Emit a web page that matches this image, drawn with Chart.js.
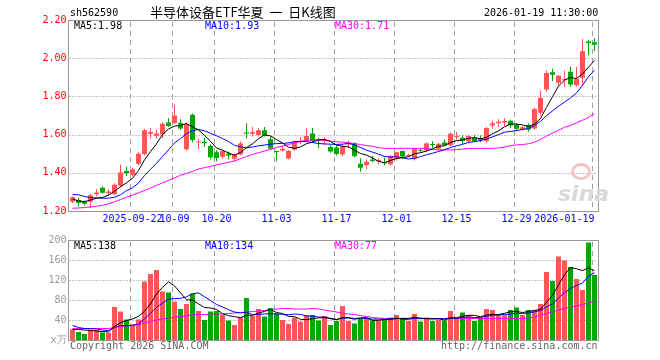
<!DOCTYPE html>
<html><head><meta charset="utf-8">
<script src="https://cdn.jsdelivr.net/npm/chart.js@4.4.1/dist/chart.umd.min.js"></script>
<style>
html,body{margin:0;padding:0;background:#fff;}
#wrap{position:relative;width:660px;height:360px;overflow:hidden;background:#fff;}
canvas{position:absolute;left:0;top:0;}
.t{position:absolute;font-family:"DejaVu Sans Mono",monospace;font-size:10px;line-height:12px;white-space:pre;color:#000;}
</style></head><body>
<div id="wrap">
<canvas id="vol" width="660" height="360"></canvas>
<canvas id="price" width="660" height="360"></canvas>
<div class="t" style="left:70px;top:7px;">sh562590</div>
<div class="t" style="left:150px;top:4px;font-family:'Noto Sans CJK SC',sans-serif;font-size:13px;line-height:16px;">半导体设备ETF华夏  一  日K线图</div>
<div class="t" style="left:484px;top:7px;">2026-01-19 11:30:00</div>
<div class="t" style="left:74px;top:20px;">MA5:1.98</div>
<div class="t" style="left:205px;top:20px;color:#0000ff;">MA10:1.93</div>
<div class="t" style="left:335px;top:20px;color:#ff00ff;">MA30:1.71</div>
<div class="t" style="left:74px;top:240px;">MA5:138</div>
<div class="t" style="left:205px;top:240px;color:#0000ff;">MA10:134</div>
<div class="t" style="left:335px;top:240px;color:#ff00ff;">MA30:77</div>
<div class="t" style="left:70px;top:340px;color:#666;">Copyright 2026 SINA.COM</div>
<div class="t" style="left:441px;top:340px;color:#666;">http://finance.sina.com.cn</div>
<div style="position:absolute;left:571px;top:163px;width:14px;height:11px;border:3px solid #f3c4c4;border-radius:50%;"></div>
<div class="t" style="left:558px;top:182px;font-family:'DejaVu Sans',sans-serif;font-size:22px;line-height:24px;font-style:italic;font-weight:bold;color:#d9d9d9;">sina</div>
</div>
<script>
const dates = ['2025-09-08','2025-09-09','2025-09-10','2025-09-11','2025-09-12','2025-09-15','2025-09-16','2025-09-17','2025-09-18','2025-09-19',
'2025-09-22','2025-09-23','2025-09-24','2025-09-25','2025-09-26','2025-09-29','2025-09-30','2025-10-09','2025-10-10','2025-10-13',
'2025-10-14','2025-10-15','2025-10-16','2025-10-17','2025-10-20','2025-10-21','2025-10-22','2025-10-23','2025-10-24','2025-10-27',
'2025-10-28','2025-10-29','2025-10-30','2025-10-31','2025-11-03','2025-11-04','2025-11-05','2025-11-06','2025-11-07','2025-11-10',
'2025-11-11','2025-11-12','2025-11-13','2025-11-14','2025-11-17','2025-11-18','2025-11-19','2025-11-20','2025-11-21','2025-11-24',
'2025-11-25','2025-11-26','2025-11-27','2025-11-28','2025-12-01','2025-12-02','2025-12-03','2025-12-04','2025-12-05','2025-12-08',
'2025-12-09','2025-12-10','2025-12-11','2025-12-12','2025-12-15','2025-12-16','2025-12-17','2025-12-18','2025-12-19','2025-12-22',
'2025-12-23','2025-12-24','2025-12-25','2025-12-26','2025-12-29','2025-12-30','2025-12-31','2026-01-05','2026-01-06','2026-01-07',
'2026-01-08','2026-01-09','2026-01-12','2026-01-13','2026-01-14','2026-01-15','2026-01-16','2026-01-19'];

const tickDates = ['2025-09-22','2025-10-09','2025-10-20','2025-11-03','2025-11-17','2025-12-01','2025-12-15','2025-12-29','2026-01-19'];
const tickTexts = ['2025-09-22','10-09','10-20','11-03','11-17','12-01','12-15','12-29','2026-01-19'];

const open = [1.249,1.258,1.248,1.249,1.288,1.322,1.293,1.288,1.332,1.410,
1.390,1.447,1.498,1.605,1.594,1.600,1.664,1.660,1.662,1.523,
1.704,1.558,1.562,1.540,1.508,1.484,1.500,1.474,1.496,1.611,
1.605,1.598,1.623,1.576,1.514,1.517,1.475,1.522,1.562,1.567,
1.606,1.576,1.567,1.535,1.532,1.496,1.548,1.554,1.447,1.440,
1.470,1.460,1.456,1.445,1.479,1.514,1.488,1.472,1.520,1.517,
1.550,1.526,1.558,1.544,1.588,1.584,1.565,1.583,1.579,1.566,
1.648,1.660,1.664,1.672,1.650,1.624,1.650,1.632,1.715,1.836,
1.927,1.872,1.885,1.929,1.858,1.897,2.087,2.083];

const high = [1.276,1.270,1.255,1.290,1.315,1.330,1.314,1.345,1.443,1.432,
1.425,1.510,1.630,1.635,1.625,1.665,1.685,1.757,1.680,1.665,
1.710,1.580,1.585,1.550,1.520,1.520,1.512,1.500,1.564,1.659,
1.640,1.635,1.640,1.590,1.516,1.540,1.520,1.570,1.586,1.634,
1.634,1.584,1.585,1.545,1.545,1.550,1.570,1.560,1.476,1.470,
1.488,1.475,1.480,1.495,1.510,1.515,1.500,1.530,1.530,1.560,
1.566,1.556,1.576,1.612,1.613,1.597,1.598,1.598,1.595,1.640,
1.672,1.680,1.685,1.678,1.660,1.645,1.660,1.742,1.830,1.935,
1.945,1.912,1.935,1.955,1.955,2.100,2.096,2.105];

const low = [1.242,1.223,1.228,1.215,1.276,1.290,1.280,1.283,1.325,1.383,
1.382,1.440,1.490,1.580,1.580,1.580,1.640,1.655,1.625,1.515,
1.560,1.523,1.535,1.470,1.460,1.473,1.470,1.458,1.490,1.580,
1.590,1.590,1.590,1.522,1.460,1.510,1.470,1.515,1.549,1.563,
1.557,1.530,1.545,1.505,1.490,1.487,1.530,1.480,1.405,1.418,
1.455,1.445,1.440,1.440,1.465,1.472,1.482,1.465,1.505,1.508,
1.530,1.517,1.540,1.538,1.575,1.550,1.555,1.560,1.560,1.560,
1.630,1.640,1.645,1.633,1.620,1.620,1.615,1.625,1.700,1.825,
1.880,1.855,1.850,1.850,1.850,1.858,2.016,2.037];

const close = [1.272,1.242,1.238,1.283,1.297,1.296,1.302,1.338,1.402,1.398,
1.417,1.500,1.623,1.614,1.606,1.657,1.645,1.700,1.632,1.655,
1.572,1.564,1.555,1.482,1.477,1.514,1.491,1.496,1.554,1.604,
1.614,1.623,1.597,1.527,1.509,1.526,1.514,1.563,1.567,1.593,
1.567,1.571,1.576,1.511,1.499,1.537,1.556,1.487,1.426,1.458,
1.462,1.467,1.450,1.487,1.508,1.485,1.492,1.526,1.515,1.553,
1.545,1.552,1.544,1.604,1.594,1.566,1.593,1.565,1.572,1.634,
1.659,1.667,1.671,1.647,1.631,1.638,1.627,1.734,1.793,1.922,
1.914,1.908,1.890,1.862,1.893,2.037,2.080,2.070];

const volume = [21,16,12,21,20,15,15,66,57,41,
31,41,117,132,140,97,95,77,62,72,
93,58,40,57,58,50,39,30,45,84,
48,62,47,64,53,40,32,45,37,50,
50,39,48,30,38,68,38,33,43,43,
39,39,41,45,50,42,38,52,37,45,
38,41,39,58,45,55,50,38,45,62,
60,50,50,60,65,50,60,60,72,136,
118,167,159,146,122,100,195,130];

// moving-average values at the left edge (window starts before the visible range)
const ma5Head = [1.263,1.253,1.249,1.258];
const ma10Head = [1.286,1.285,1.276,1.270,1.269,1.267,1.267,1.272,1.285];
const ma30 = [1.214,1.216,1.218,1.221,1.225,1.230,1.238,1.248,1.260,1.272,
1.283,1.295,1.308,1.320,1.334,1.347,1.360,1.374,1.387,1.397,
1.407,1.420,1.427,1.434,1.441,1.448,1.455,1.462,1.474,1.485,
1.496,1.505,1.514,1.523,1.532,1.540,1.548,1.556,1.564,1.570,
1.572,1.572,1.570,1.566,1.563,1.560,1.557,1.553,1.548,1.543,
1.539,1.532,1.528,1.528,1.528,1.528,1.528,1.528,1.528,1.528,
1.522,1.520,1.520,1.520,1.521,1.524,1.527,1.528,1.528,1.528,
1.528,1.530,1.535,1.542,1.546,1.548,1.552,1.560,1.575,1.592,
1.608,1.623,1.638,1.648,1.662,1.675,1.690,1.710];
const vma5Head = [21,21,20,19];
const vma10Head = [29,25,23,23,22,20,19,25,29];
const vma30 = [23,23,23,23,23,23,23,25,27,28,
29,31,34,37,40,42,44,45,47,48,
50,51,51,52,52,52,53,54,55,56,
57,58,59,61,62,63,63,62,62,62,
63,62,60,58,56,54,52,51,49,47,
45,44,43,43,43,43,43,43,43,43,
43,43,43,43,43,43,43,43,43,43,
43,43,43,43,43,43,44,46,50,53,
56,60,63,66,68,71,74,77];

const priceTicks = [1.2,1.4,1.6,1.8,2.0,2.2];
const volTicks = [0,40,80,120,160,200];

// ---- derived ----
function movingAvg(src, n, head){
  return src.map((_, i) => {
    if (i < n - 1) return head[i];
    let s = 0; for (let k = i - n + 1; k <= i; k++) s += src[k];
    return s / n;
  });
}
const UP = '#ff5555', DOWN = '#00a800';
const barColor = close.map((c, i) => c >= open[i] ? UP : DOWN);
const bodies = open.map((o, i) => [Math.min(o, close[i]), Math.max(o, close[i])]);
const wicks = low.map((l, i) => [l, high[i]]);
const ma5 = movingAvg(close, 5, ma5Head);
const ma10 = movingAvg(close, 10, ma10Head);
const vma5 = movingAvg(volume, 5, vma5Head);
const vma10 = movingAvg(volume, 10, vma10Head);
const tickIndex = tickDates.map(d => dates.indexOf(d));

Chart.defaults.font.family = '"DejaVu Sans Mono", monospace';
Chart.defaults.font.size = 10;
Chart.defaults.animation = false;

function makeGrid(hValues){
  return {
    id: 'kgrid',
    beforeDatasetsDraw(chart) {
      const ctx = chart.ctx, a = chart.chartArea;
      const x = chart.scales.x, y = chart.scales.y;
      ctx.save();
      ctx.lineWidth = 1;
      ctx.strokeStyle = '#8c8c8c';
      ctx.setLineDash([1, 2]);
      hValues.forEach(v => {
        const py = Math.round(y.getPixelForValue(v)) + 0.5;
        if (py <= a.top + 1 || py >= a.bottom - 1) return;
        ctx.beginPath(); ctx.moveTo(a.left, py); ctx.lineTo(a.right, py); ctx.stroke();
      });
      ctx.strokeStyle = '#a0a0a0';
      ctx.setLineDash([5, 4]);
      tickIndex.forEach(i => {
        const px = Math.floor(x.getPixelForValue(i)) - 2 + 0.5;
        ctx.beginPath(); ctx.moveTo(px, a.top + 2); ctx.lineTo(px, a.bottom); ctx.stroke();
      });
      ctx.restore();
    },
    afterDraw(chart) {
      const ctx = chart.ctx, a = chart.chartArea;
      ctx.save();
      ctx.lineWidth = 1;
      ctx.strokeStyle = '#999999';
      ctx.setLineDash([]);
      const l = Math.floor(a.left) - 0.5, t = Math.round(a.top) + 0.5,
            r = Math.round(a.right) + 0.5, b = Math.round(a.bottom) + 0.5;
      ctx.strokeRect(l, t, r - l, b - t);
      ctx.restore();
    }
  };
}

function lineDs(data, color){
  return {type: 'line', data, borderColor: color, borderWidth: 1, pointRadius: 0,
          tension: 0, fill: false, order: 0};
}

new Chart(document.getElementById('price'), {
  type: 'bar',
  data: {
    labels: dates,
    datasets: [
      lineDs(ma5, '#000000'),
      lineDs(ma10, '#0000ff'),
      lineDs(ma30, '#ff00ff'),
      {data: bodies, backgroundColor: barColor, barThickness: 5, grouped: false,
       minBarLength: 1, borderWidth: 0, inflateAmount: 0, order: 1},
      {data: wicks, backgroundColor: barColor, barThickness: 1, grouped: false,
       borderWidth: 0, inflateAmount: 0, order: 2}
    ]
  },
  options: {
    responsive: false, events: [],
    layout: {padding: {top: 20, right: 62.5, bottom: 128, left: 0}},
    plugins: {legend: {display: false}, tooltip: {enabled: false}},
    scales: {
      x: {
        offset: true,
        grid: {display: false, drawTicks: false},
        border: {display: false},
        afterFit(s){ s.height = 21; },
        ticks: {
          autoSkip: false, maxRotation: 0, minRotation: 0, padding: 2, color: '#0000ff',
          callback(value, index){
            const k = tickIndex.indexOf(index);
            if (k < 0) return '';
            if (index === dates.length - 1) return tickTexts[k] + ' '.repeat(tickTexts[k].length);
            return tickTexts[k];
          }
        }
      },
      y: {
        min: 1.2, max: 2.2,
        grid: {display: false, drawTicks: false},
        border: {display: false},
        afterFit(s){ s.width = 69.5; },
        afterBuildTicks(s){ s.ticks = priceTicks.map(v => ({value: v})); },
        ticks: {padding: 3, color: '#ff0000', callback: v => Number(v).toFixed(2)}
      }
    }
  },
  plugins: [makeGrid(priceTicks)]
});

new Chart(document.getElementById('vol'), {
  type: 'bar',
  data: {
    labels: dates,
    datasets: [
      lineDs(vma5, '#000000'),
      lineDs(vma10, '#0000ff'),
      lineDs(vma30, '#ff00ff'),
      {data: volume, backgroundColor: barColor, barThickness: 5, borderWidth: 0,
       inflateAmount: 0, order: 1}
    ]
  },
  options: {
    responsive: false, events: [],
    layout: {padding: {top: 240, right: 62.5, bottom: 20, left: 0}},
    plugins: {legend: {display: false}, tooltip: {enabled: false}},
    scales: {
      x: {offset: true, display: false},
      y: {
        min: 0, max: 200,
        grid: {display: false, drawTicks: false},
        border: {display: false},
        afterFit(s){ s.width = 69.5; },
        afterBuildTicks(s){ s.ticks = volTicks.map(v => ({value: v})); },
        ticks: {padding: 3, color: '#999999', callback: v => v === 0 ? 'x万' : String(v)}
      }
    }
  },
  plugins: [makeGrid(volTicks)]
});
</script>
</body></html>
